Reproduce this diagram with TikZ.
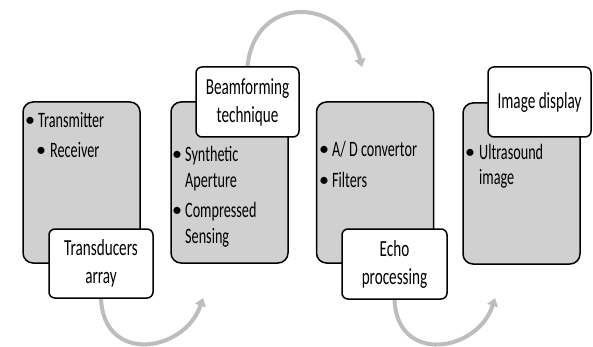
\documentclass[tikz,border=0pt]{standalone}
\usepackage{fontspec}
\setmainfont{Carlito}
\usepackage{graphicx}
\usetikzlibrary{arrows.meta,backgrounds}
\definecolor{boxgray}{HTML}{D0D0D0}
\definecolor{arrowgray}{HTML}{BDBDBD}
\newcommand{\lbltxt}[1]{\scalebox{0.66}[1]{#1}}
\newcommand{\bultxt}[1]{\scalebox{0.645}[1]{#1}}
\begin{document}
\begin{tikzpicture}[x=1pt,y=-1pt,
  greybox/.style={draw=black, line width=1.5pt, fill=boxgray, rounded corners=10pt,
    minimum width=117pt, minimum height=161pt, inner sep=0pt},
  labelbox/.style={draw=black, line width=1.5pt, fill=white, rounded corners=6pt,
    inner sep=0pt, align=center, font=\fontsize{23}{28}\selectfont},
  flow/.style={draw=arrowgray, line width=4pt, -{Triangle[length=8pt,width=11pt]}},
  bul/.style={anchor=base west, inner sep=0pt, font=\fontsize{22}{26}\selectfont},
  dot/.style={anchor=base, inner sep=0pt, font=\fontsize{20}{24}\selectfont}]
\useasboundingbox (0,0) rectangle (593,347);

% grey boxes
\node[greybox] (box1) at (81.5,182.5) {};
\node[greybox] (box2) at (229.5,182.5) {};
\node[greybox] (box3) at (375,182.5) {};
\node[greybox] (box4) at (521.5,183.5) {};

% bullet texts
\node[dot] (b1a) at (30,127) {•};
\node[bul] (b1at) at (38,128) {\bultxt{Transmitter}};
\node[dot] (b1b) at (41,157) {•};
\node[bul] (b1bt) at (50,158) {\bultxt{Receiver}};

\node[dot] (b2a) at (177,161) {•};
\node[bul] (b2at) at (185,162) {\bultxt{Synthetic}};
\node[bul] (b2at2) at (185,188) {\bultxt{Aperture}};
\node[dot] (b2b) at (177,216) {•};
\node[bul] (b2bt) at (185,217) {\bultxt{Compressed}};
\node[bul] (b2bt2) at (185,243) {\bultxt{Sensing}};

\node[dot] (b3a) at (324,156) {•};
\node[bul] (b3at) at (332,157) {\bultxt{A/ D convertor}};
\node[dot] (b3b) at (324,186) {•};
\node[bul] (b3bt) at (332,187) {\bultxt{Filters}};

\node[dot] (b4a) at (470,159) {•};
\node[bul] (b4at) at (479,160) {\bultxt{Ultrasound}};
\node[bul] (b4at2) at (479,185) {\bultxt{image}};

% label boxes
\node[labelbox, minimum width=104pt, minimum height=69pt] (trans) at (101,263.5)
  {\lbltxt{Transducers}\\\lbltxt{array}};
\node[labelbox, minimum width=103pt, minimum height=70pt] (beam) at (247.5,102)
  {\lbltxt{Beamforming}\\\lbltxt{technique}};
\node[labelbox, minimum width=105pt, minimum height=70pt] (echo) at (394.5,264)
  {\lbltxt{Echo}\\\lbltxt{processing}};
\node[labelbox, minimum width=103pt, minimum height=70pt] (disp) at (539.5,102)
  {\lbltxt{Image display}};

% arrow ends
\coordinate (t1) at (203,298);
\coordinate (t2) at (362,67);
\coordinate (t3) at (495,298);

\begin{scope}[on background layer]
\draw[flow] (trans.south) .. controls (104,365) and (185,352) .. (t1);
\draw[flow] (beam.north) .. controls (255,-8) and (345,-2) .. (t2);
\draw[flow] (echo.south) .. controls (397,365) and (478,352) .. (t3);
\end{scope}
\end{tikzpicture}
\end{document}
